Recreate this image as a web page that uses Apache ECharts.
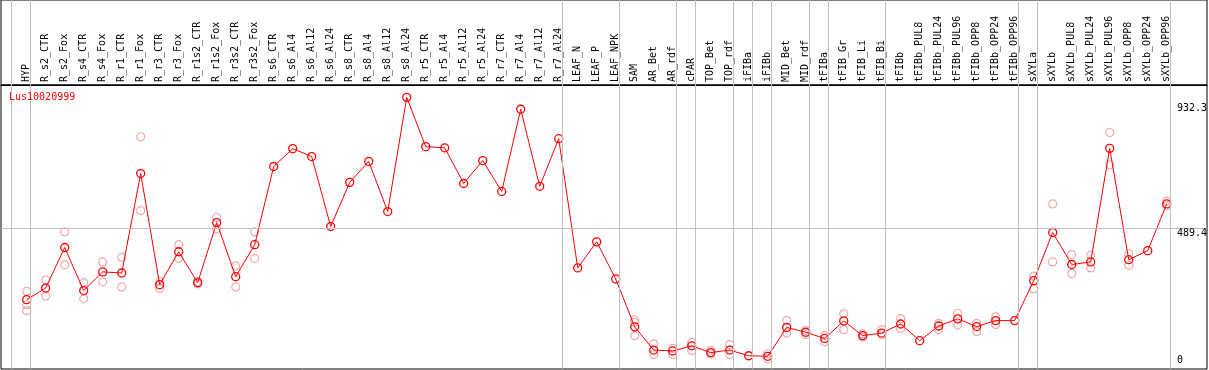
<!DOCTYPE html>
<html><head><meta charset="utf-8">
<script src="https://cdn.jsdelivr.net/npm/echarts@6/dist/echarts.min.js"></script>
<style>html,body{margin:0;padding:0;background:#fff}#c{width:1209px;height:370px}</style>
</head><body><div id="c"></div>
<script>
const categories = ["HYP","R_s2_CTR","R_s2_Fox","R_s4_CTR","R_s4_Fox","R_r1_CTR","R_r1_Fox","R_r3_CTR","R_r3_Fox","R_r1s2_CTR","R_r1s2_Fox","R_r3s2_CTR","R_r3s2_Fox","R_s6_CTR","R_s6_Al4","R_s6_Al12","R_s6_Al24","R_s8_CTR","R_s8_Al4","R_s8_Al12","R_s8_Al24","R_r5_CTR","R_r5_Al4","R_r5_Al12","R_r5_Al24","R_r7_CTR","R_r7_Al4","R_r7_Al12","R_r7_Al24","LEAF_N","LEAF_P","LEAF_NPK","SAM","AR_Bet","AR_rdf","cPAR","TOP_Bet","TOP_rdf","iFIBa","iFIBb","MID_Bet","MID_rdf","tFIBa","tFIB_Gr","tFIB_Li","tFIB_Bi","tFIBb","tFIBb_PUL8","tFIBb_PUL24","tFIBb_PUL96","tFIBb_OPP8","tFIBb_OPP24","tFIBb_OPP96","sXYLa","sXYLb","sXYLb_PUL8","sXYLb_PUL24","sXYLb_PUL96","sXYLb_OPP8","sXYLb_OPP24","sXYLb_OPP96"];
const means = [236,277,420,268,334,330,681,289,405,296,508,317,430,706,769,741,494,650,724,547,950,776,772,646,727,618,908,636,804,348,440,309,140,58,55,73,49,58,38,36,138,121,99,161,109,118,150,91,143,168,141,162,162,303,473,360,369,770,377,409,574];
const rep1 = [265,306,475,296,369,385,811,301,430,300,526,355,475,null,null,null,null,null,null,null,null,null,null,null,null,null,null,null,null,null,null,null,165,80,64,85,57,77,null,45,162,128,109,186,115,130,169,null,152,188,152,175,null,319,574,395,393,826,398,null,584];
const rep2 = [197,249,359,239,299,281,550,275,382,292,486,281,382,null,null,null,null,null,null,null,null,null,null,null,null,null,null,null,null,null,null,null,109,42,42,56,45,42,null,27,118,113,87,130,104,112,134,null,130,147,123,148,null,274,369,328,348,712,357,null,568];
const rep3 = [218,null,null,null,null,null,null,null,null,null,null,null,null,null,null,null,null,null,null,null,null,null,null,null,null,null,null,null,null,null,null,null,156,null,null,null,null,null,null,null,null,null,null,null,null,null,null,null,null,null,null,null,null,null,null,null,null,null,null,null,null];
const yLabels = [932.3, 489.4, 0];
const groupEnds = [-1,0,28,31,34,35,37,38,39,41,42,45,52,53,60];
const geneName = "Lus10020999";

const FONT = "DejaVu Sans Mono";
const X_MIN = -1.3526, X_MAX = 62.12;
const SEP_OFFSET = 0.21;
const seps = groupEnds.map(g => g + SEP_OFFSET);

const repData = [];
[rep1, rep2, rep3].forEach(arr => arr.forEach((v, i) => { if (v != null) repData.push([i, v]); }));
const meanData = means.map((v, i) => [i, v]);

const chart = echarts.init(document.getElementById('c'), null, {renderer: 'canvas'});
const sepStyle = {color: '#c0c0c0', type: 'solid', width: 1};
chart.setOption({
  animation: false,
  backgroundColor: '#fff',
  title: {
    text: geneName, left: 9, top: 92, padding: 0,
    textStyle: {color: '#ff0000', fontSize: 10, fontWeight: 'normal', fontFamily: FONT}
  },
  grid: [
    {left: 1, top: 0, width: 1206, height: 85, show: true, borderColor: '#000', borderWidth: 1, backgroundColor: 'transparent'},
    {left: 1, top: 85, width: 1206, height: 284, show: true, borderColor: '#000', borderWidth: 1, backgroundColor: 'transparent'}
  ],
  xAxis: [
    {
      type: 'value', gridIndex: 0, min: X_MIN, max: X_MAX, position: 'bottom',
      axisLine: {show: true, onZero: false, lineStyle: {color: '#000', width: 1}},
      axisTick: {show: false}, splitLine: {show: false},
      axisLabel: {
        show: true, inside: true, rotate: 90, margin: 3,
        customValues: categories.map((_, i) => i),
        formatter: v => categories[Math.round(v)] || '',
        color: '#000', fontSize: 10, fontFamily: FONT
      }
    },
    {type: 'value', gridIndex: 1, min: X_MIN, max: X_MAX, show: false}
  ],
  yAxis: [
    {type: 'value', gridIndex: 0, min: 0, max: 1, show: false},
    {type: 'value', gridIndex: 1, min: -8.8, max: 993.6, show: false}
  ],
  series: [
    {
      type: 'line', xAxisIndex: 0, yAxisIndex: 0, data: [], silent: true,
      markLine: {
        silent: true, symbol: 'none', animation: false, label: {show: false},
        lineStyle: sepStyle, emphasis: {disabled: true},
        data: seps.map(x => ({xAxis: x}))
      }
    },
    {
      type: 'scatter', xAxisIndex: 1, yAxisIndex: 1, data: repData, silent: true,
      symbol: 'circle', symbolSize: 8, z: 2,
      itemStyle: {color: 'rgba(255,255,255,0)', borderColor: '#eb9696', borderWidth: 1.2},
      markLine: {
        silent: true, symbol: 'none', animation: false,
        emphasis: {disabled: true},
        data: seps.map(x => ({xAxis: x, lineStyle: sepStyle, label: {show: false}}))
          .concat(yLabels.map((v, k) => ({
            yAxis: v,
            lineStyle: {color: k === 1 ? '#c0c0c0' : 'rgba(0,0,0,0)', type: 'solid', width: 1},
            label: {
              show: true, position: v === 0 ? 'insideEndTop' : 'insideEndBottom',
              distance: [30, 1], align: 'left', formatter: String(v),
              color: '#000', fontSize: 10, fontFamily: FONT
            }
          })))
      }
    },
    {
      type: 'line', xAxisIndex: 1, yAxisIndex: 1, data: meanData, silent: true, z: 3,
      symbol: 'circle', symbolSize: 8, showAllSymbol: true,
      lineStyle: {color: '#ff0000', width: 1},
      itemStyle: {color: 'rgba(255,255,255,0)', borderColor: '#ff0000', borderWidth: 1.3}
    }
  ]
});
</script>
</body></html>
